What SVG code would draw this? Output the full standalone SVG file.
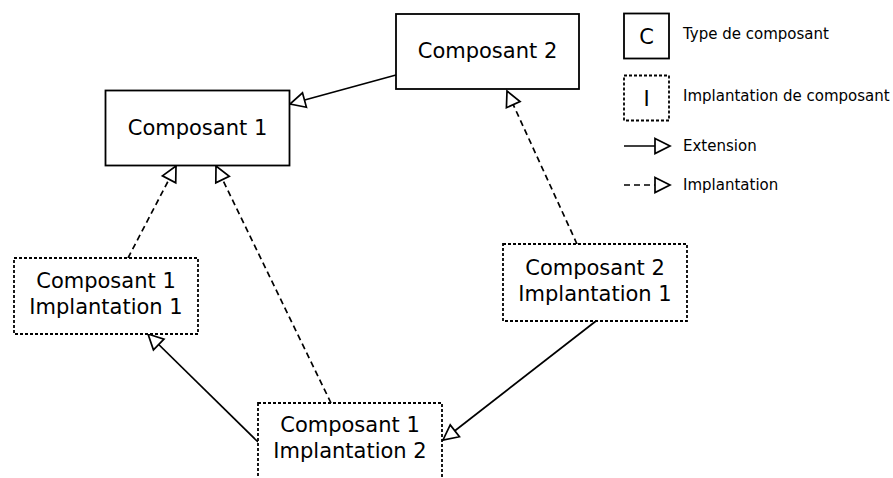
<svg xmlns="http://www.w3.org/2000/svg" width="893" height="478" viewBox="0 0 893 478">
<style>
.box{fill:#fff;stroke:#000;stroke-width:1.8}
.impl{fill:#fff;stroke:#000;stroke-width:1.8;stroke-dasharray:3,2}
.t{font-family:"DejaVu Sans","Liberation Sans",sans-serif;font-size:21px;fill:#000;text-anchor:middle}
.lt{font-family:"DejaVu Sans","Liberation Sans",sans-serif;font-size:15px;fill:#000}
.ext{fill:none;stroke:#000;stroke-width:1.7;marker-end:url(#tri)}
.imp{fill:none;stroke:#000;stroke-width:1.7;stroke-dasharray:6,4;marker-end:url(#tri)}
</style>
<defs>
<marker id="tri" markerUnits="userSpaceOnUse" markerWidth="17" markerHeight="17" viewBox="-1 -1 17 17" refX="15" refY="7.5" orient="auto" overflow="visible">
<path d="M0,0 L15,7.5 L0,15 Z" fill="#fff" stroke="#000" stroke-width="1.7" stroke-dasharray="none"/>
</marker>
</defs>
<rect width="893" height="478" fill="#fff"/>
<g id="connectors">
<line class="ext" x1="396" y1="75" x2="290" y2="104"/>
<line class="imp" x1="577" y1="244" x2="507" y2="91"/>
<line class="imp" x1="128" y1="258" x2="176" y2="166"/>
<line class="imp" x1="331" y1="403" x2="216" y2="166"/>
<line class="ext" x1="258" y1="442" x2="148" y2="334"/>
<line class="ext" x1="596" y1="321" x2="443" y2="440"/>
</g>
<g id="composant2">
<rect class="box" x="396" y="14" width="183" height="75"/>
<text class="t" x="487.5" y="58">Composant 2</text>
</g>
<g id="composant1">
<rect class="box" x="105.5" y="90.5" width="184" height="75"/>
<text class="t" x="197.5" y="135">Composant 1</text>
</g>
<g id="c1i1">
<rect class="impl" x="14" y="258" width="184" height="76"/>
<text class="t" x="106" y="288">Composant 1</text>
<text class="t" x="106" y="314">Implantation 1</text>
</g>
<g id="c2i1">
<rect class="impl" x="503" y="244" width="184" height="77"/>
<text class="t" x="595" y="275">Composant 2</text>
<text class="t" x="595" y="301">Implantation 1</text>
</g>
<g id="c1i2">
<rect class="impl" x="258" y="403" width="184" height="80"/>
<text class="t" x="350" y="432">Composant 1</text>
<text class="t" x="350" y="458">Implantation 2</text>
</g>
<g id="legend">
<rect class="box" x="624" y="13.5" width="45" height="45"/>
<text class="t" x="646.5" y="44">C</text>
<text class="lt" x="683" y="39">Type de composant</text>
<rect class="impl" x="624" y="75.5" width="45" height="45"/>
<text class="t" x="646.5" y="106">I</text>
<text class="lt" x="683" y="101">Implantation de composant</text>
<line class="ext" x1="624" y1="146" x2="670" y2="146"/>
<text class="lt" x="683" y="151">Extension</text>
<line class="imp" x1="624" y1="185" x2="670" y2="185" stroke-dasharray="5,3"/>
<text class="lt" x="683" y="190">Implantation</text>
</g>
</svg>
